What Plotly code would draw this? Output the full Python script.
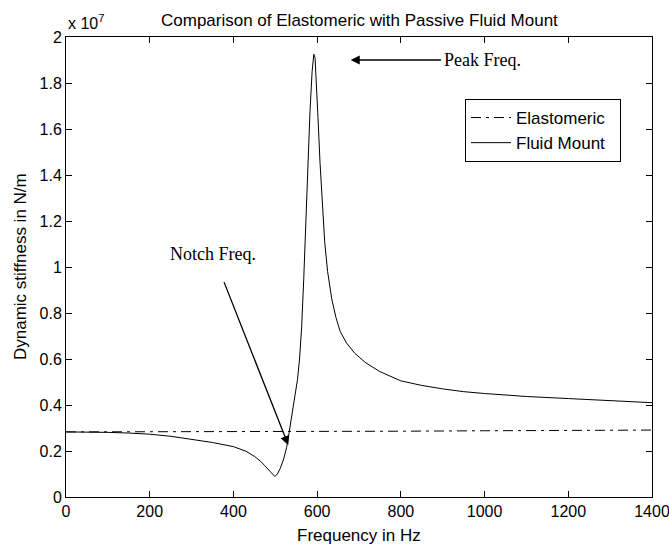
import plotly.graph_objects as go

# Frequency (Hz) and dynamic stiffness (x 1e7 N/m)
fluid_freq = [0, 50, 100, 150, 200, 250, 300, 350, 400, 430, 450, 465, 475, 485, 492, 499,
              505, 512, 520, 527, 533, 540, 547, 553, 558, 563, 568, 573, 578, 583, 588,
              592, 595, 598, 602, 607, 612, 618, 625, 635, 645, 655, 670, 690, 715, 750,
              800, 850, 900, 950, 1000, 1100, 1200, 1300, 1400]
fluid_stiff_1e7 = [0.283, 0.283, 0.281, 0.278, 0.273, 0.264, 0.251, 0.237, 0.219, 0.199, 0.177,
                   0.155, 0.136, 0.115, 0.099, 0.089, 0.100, 0.125, 0.165, 0.215, 0.280, 0.355,
                   0.430, 0.510, 0.600, 0.740, 0.950, 1.200, 1.450, 1.680, 1.850, 1.925, 1.910,
                   1.820, 1.650, 1.450, 1.270, 1.110, 0.980, 0.860, 0.780, 0.720, 0.670, 0.625,
                   0.585, 0.545, 0.505, 0.485, 0.470, 0.458, 0.450, 0.437, 0.428, 0.418, 0.410]

elast_freq = [0, 200, 400, 600, 800, 1000, 1200, 1400]
elast_stiff_1e7 = [0.283, 0.283, 0.284, 0.285, 0.286, 0.288, 0.290, 0.291]

x_ticks = [0, 200, 400, 600, 800, 1000, 1200, 1400]
y_ticks = [0, 0.2, 0.4, 0.6, 0.8, 1, 1.2, 1.4, 1.6, 1.8, 2]
y_tick_text = ["0", "0.2", "0.4", "0.6", "0.8", "1", "1.2", "1.4", "1.6", "1.8", "2"]

W, H = 669, 549
L, R, T, B = 66, 17, 37, 52
pw, ph = W - L - R, H - T - B

def px_x(p):
    return (p - L) / pw

def px_y(p):
    return (H - B - p) / ph

SANS = "Liberation Sans, Arial, sans-serif"
SERIF = "Liberation Serif, Times New Roman, serif"
PAD = "\u00a0\u00a0"

fig = go.Figure()
fig.add_trace(go.Scatter(x=elast_freq, y=elast_stiff_1e7, mode="lines", name="Elastomeric" + PAD,
                         line=dict(color="black", width=1, dash="10px,5px,3px,5px")))
fig.add_trace(go.Scatter(x=fluid_freq, y=fluid_stiff_1e7, mode="lines", name="Fluid Mount" + PAD,
                         line=dict(color="black", width=1)))

axis_common = dict(showline=True, linecolor="black", linewidth=1, mirror="ticks",
                   ticks="inside", ticklen=6, tickcolor="black", showgrid=False,
                   zeroline=False, ticklabeloverflow="allow", automargin=False,
                   tickfont=dict(family=SANS, size=16, color="black"))

fig.update_xaxes(range=[0, 1400], tickvals=x_ticks, **axis_common)
fig.update_yaxes(range=[0, 2], tickvals=y_ticks, ticktext=y_tick_text, **axis_common)

annotations = [
    dict(text="Comparison of Elastomeric with Passive Fluid Mount", xref="paper", yref="paper",
         x=0.5, y=px_y(20), xanchor="center", yanchor="middle", showarrow=False,
         font=dict(family=SANS, size=17, color="black")),
    dict(text="x 10<sup>7</sup>", xref="paper", yref="paper", x=px_x(66), y=px_y(22),
         xanchor="left", yanchor="middle", showarrow=False,
         font=dict(family=SANS, size=16, color="black")),
    dict(text="Frequency in Hz", xref="paper", yref="paper", x=0.5, y=px_y(535),
         xanchor="center", yanchor="middle", showarrow=False,
         font=dict(family=SANS, size=17, color="black")),
    dict(text="Dynamic stiffness in N/m", xref="paper", yref="paper", x=px_x(20), y=0.5,
         xanchor="center", yanchor="middle", textangle=-90, showarrow=False,
         font=dict(family=SANS, size=17, color="black")),
    dict(text="Peak Freq.", xref="x", yref="y", x=680, y=1.9, axref="x", ayref="y",
         ax=996, ay=1.9, showarrow=True, arrowhead=2, arrowsize=1.4, arrowwidth=1.3,
         arrowcolor="black", startstandoff=2,
         font=dict(family=SERIF, size=18, color="black")),
    dict(text="Notch Freq.", xref="x", yref="y", x=531, y=0.226, axref="x", ayref="y",
         ax=351, ay=1.057, showarrow=True, arrowhead=2, arrowsize=1.4, arrowwidth=1.3,
         arrowcolor="black", startstandoff=18,
         font=dict(family=SERIF, size=18, color="black")),
]

fig.update_layout(
    width=W, height=H, margin=dict(l=L, r=R, t=T, b=B, autoexpand=False),
    plot_bgcolor="white", paper_bgcolor="white",
    showlegend=True,
    legend=dict(x=px_x(465), y=px_y(99), xanchor="left", yanchor="top",
                bordercolor="black", borderwidth=1, bgcolor="white", itemwidth=40,
                font=dict(family=SANS, size=17, color="black"), tracegroupgap=0),
    annotations=annotations,
)

fig.write_html("out.html")
